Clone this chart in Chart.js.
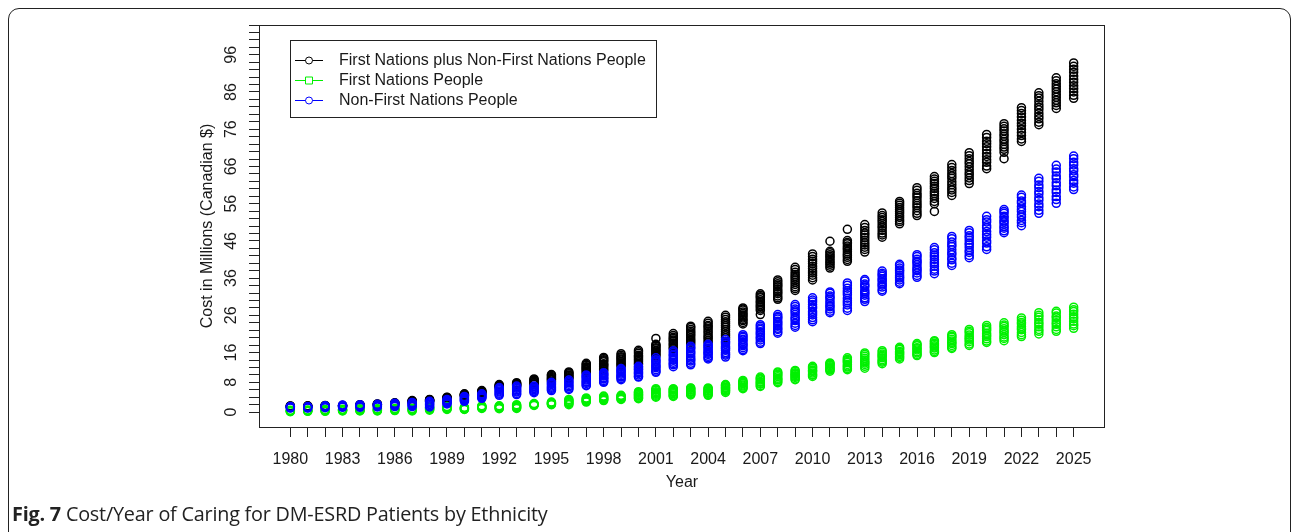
<!DOCTYPE html>
<html>
<head>
<meta charset="utf-8">
<title>Cost/Year of Caring for DM-ESRD Patients by Ethnicity</title>
<script src="https://cdn.jsdelivr.net/npm/chart.js@4.4.1/dist/chart.umd.min.js"></script>
<style>
  html, body { margin: 0; padding: 0; background: #ffffff; }
  body { width: 1292px; height: 532px; overflow: hidden; position: relative; }
  #frame {
    position: absolute; left: 8px; top: 8px; width: 1283px; height: 600px;
    border: 1.5px solid #222; border-radius: 11px; box-sizing: border-box;
  }
  #chart { position: absolute; left: 0; top: 0; }
  #caption {
    position: absolute; left: 12px; top: 500px;
    font-family: "Open Sans", Lato, sans-serif; font-size: 19.8px; color: #222;
    white-space: nowrap; letter-spacing: -0.2px;
  }
  #caption b { font-weight: 700; }
</style>
</head>
<body>
<div id="frame"></div>
<canvas id="chart" width="1292" height="532"></canvas>
<div id="caption"><b>Fig. 7</b> Cost/Year of Caring for DM-ESRD Patients by Ethnicity</div>
<script>
// Simulated yearly cost (millions of Canadian dollars), many runs per year.
const years = [1980,1981,1982,1983,1984,1985,1986,1987,1988,1989,
               1990,1991,1992,1993,1994,1995,1996,1997,1998,1999,
               2000,2001,2002,2003,2004,2005,2006,2007,2008,2009,
               2010,2011,2012,2013,2014,2015,2016,2017,2018,2019,
               2020,2021,2022,2023,2024,2025];

// First Nations plus Non-First Nations People
const totalCost = [
  [1.5,1.55,1.6,1.65],[1.5,1.55,1.6,1.7],[1.6,1.65,1.7,1.8],[1.6,1.7,1.75,1.8],
  [1.8,1.85,1.9,2.0],[2.0,2.05,2.1,2.2],[2.2,2.3,2.35,2.4,2.5],
  [2.6,2.7,2.8,2.9,3.0,3.1],[2.9,3.0,3.1,3.2,3.3,3.4],[3.5,3.6,3.7,3.8,3.9,4.0],
  [4.3,4.4,4.5,4.6,4.7,4.8,4.9],[5.0,5.2,5.3,5.5,5.6,5.8],[6.6,6.8,6.9,7.0,7.2,7.4],
  [7.0,7.2,7.4,7.5,7.7,7.9],[7.4,7.6,7.9,8.0,8.3,8.5,8.7,8.9],
  [8.3,8.6,8.8,9.0,9.3,9.6,9.9,10.1],[9.0,9.2,9.5,9.8,10.0,10.3,10.6,10.8],
  [10.4,10.7,11.0,11.3,11.5,11.8,12.0,12.2,12.6,12.8,13.1],
  [11.1,11.4,11.8,12.2,12.5,12.8,13.0,13.5,13.8,14.1,14.4,14.7],
  [12.2,12.6,12.9,13.2,13.6,14.0,14.3,14.6,14.9,15.3,15.7],
  [12.8,13.1,13.5,13.9,14.3,14.7,15.0,15.3,15.8,16.2,16.6],
  [15.1,15.4,15.7,16.1,16.4,16.6,17.0,17.3,17.7,17.9,18.2,19.8],
  [17.0,17.3,17.8,18.2,18.6,19.1,19.4,19.8,20.1,20.6,21.1],
  [18.2,18.7,19.1,19.5,20.0,20.5,20.9,21.3,21.7,22.2,22.7,23.1],
  [18.7,19.2,19.8,20.2,20.7,21.3,21.8,22.4,22.9,23.3,23.9,24.4],
  [20.0,20.5,21.0,21.6,22.2,22.8,23.3,23.8,24.3,24.9,25.5,26.0],
  [23.7,24.1,24.6,24.9,25.3,25.8,26.1,26.5,26.9,27.4,27.7,28.0],
  [26.2,27.3,27.7,28.2,28.5,28.9,29.4,29.7,30.2,30.7,31.0,31.4,31.8],
  [30.3,30.7,31.2,31.8,32.2,32.6,33.1,33.7,34.1,34.5,35.0,35.5],
  [32.7,33.2,33.7,34.3,34.9,35.5,36.0,36.5,37.0,37.6,38.3,38.9],
  [35.5,36.1,36.8,37.4,37.9,38.6,39.2,39.9,40.5,41.1,41.8,42.5],
  [38.7,39.2,39.7,40.1,40.5,41.0,41.5,41.9,42.3,42.8,43.2,45.9],
  [40.5,41.0,41.6,42.1,42.5,43.1,43.7,44.1,44.6,45.2,45.6,46.1,49.1],
  [43.0,43.7,44.3,44.9,45.5,46.2,46.9,47.6,48.1,48.8,49.6,50.4],
  [47.0,47.6,48.1,48.8,49.5,50.0,50.6,51.2,51.7,52.3,52.8,53.5],
  [50.6,51.2,51.7,52.3,52.8,53.4,53.9,54.4,55.0,55.6,56.1,56.6],
  [52.8,53.4,54.1,54.9,55.5,56.1,56.8,57.6,58.2,58.8,59.6,60.3],
  [53.9,56.0,56.6,57.4,58.1,58.7,59.3,60.1,60.7,61.4,62.0,62.6,63.3],
  [58.2,59.0,59.7,60.3,61.1,61.9,62.8,63.4,64.1,64.9,65.7,66.5],
  [61.4,62.2,62.9,63.7,64.3,65.1,65.9,66.7,67.3,68.1,68.9,69.7],
  [65.4,66.1,67.1,67.8,68.7,69.5,70.4,71.3,72.1,72.8,73.8,74.6],
  [68.1,69.8,70.6,71.2,71.9,72.7,73.3,74.1,74.7,75.5,76.1,76.8,77.5],
  [72.7,73.4,74.3,75.1,76.0,76.9,77.6,78.4,79.3,80.2,81.0,81.8],
  [77.2,77.9,78.8,79.5,80.3,81.2,81.9,82.6,83.5,84.4,85.0,85.8],
  [81.6,82.4,83.1,83.8,84.6,85.3,86.1,86.8,87.5,88.2,89.0,89.8],
  [84.3,85.1,86.0,86.9,87.7,88.6,89.4,90.3,91.3,92.1,92.9,93.8]
];

// First Nations People
const firstNationsCost = [
  [0.1,0.2,0.3,0.35,0.5],[0.2,0.3,0.35,0.45,0.6],[0.2,0.3,0.45,0.55,0.7],
  [0.3,0.4,0.5,0.65,0.8],[0.3,0.45,0.55,0.7,0.9],[0.3,0.4,0.6,0.75,0.9],
  [0.4,0.55,0.65,0.8,1.0],[0.3,0.5,0.65,0.85,1.0],[0.5,0.7,0.85,1.0,1.15,1.3],
  [0.7,0.85,1.0,1.2,1.35,1.5],[0.7,0.8,0.95,1.05,1.2,1.3],[1.0,1.15,1.3,1.4,1.55,1.7],
  [0.9,1.05,1.25,1.4,1.55,1.7],[1.0,1.2,1.35,1.55,1.8,2.0],[1.8,1.9,2.0,2.05,2.2,2.3],
  [2.0,2.15,2.25,2.4,2.55,2.7],[2.0,2.25,2.5,2.7,2.95,3.2,3.4],[2.7,2.85,3.05,3.2,3.4,3.6,3.8],
  [3.1,3.3,3.5,3.65,3.85,4.1,4.3],[3.4,3.55,3.75,3.95,4.15,4.3,4.5],
  [3.6,3.8,4.0,4.3,4.4,4.7,4.8,5.1,5.3,5.5],
  [4.0,4.2,4.5,4.8,5.0,5.2,5.5,5.9,6.0,6.3],
  [4.2,4.4,4.6,4.9,5.2,5.4,5.6,5.9,6.1,6.3],
  [4.6,4.8,5.0,5.3,5.4,5.6,5.9,6.1,6.4,6.5],
  [4.5,4.7,5.0,5.2,5.3,5.6,5.8,6.1,6.3,6.5],
  [5.3,5.6,5.8,6.0,6.3,6.5,6.7,7.0,7.2,7.4],
  [6.3,6.5,6.7,7.0,7.3,7.6,7.8,8.0,8.2,8.5],
  [6.9,7.1,7.5,7.7,8.0,8.2,8.6,8.9,9.1,9.4],
  [7.9,8.2,8.6,8.8,9.1,9.5,9.9,10.2,10.5,10.8],
  [8.7,8.9,9.3,9.6,9.8,10.1,10.3,10.6,11.0,11.2],
  [9.6,9.9,10.1,10.5,10.9,11.1,11.3,11.7,12.0,12.3],
  [11.0,11.3,11.5,11.7,11.9,12.2,12.5,12.8,13.0,13.2],
  [11.4,11.7,12.1,12.4,12.8,13.3,13.6,13.9,14.2,14.6],
  [11.8,12.3,12.8,13.2,13.5,14.0,14.5,15.0,15.5,15.9],
  [13.0,13.4,13.7,14.1,14.6,15.0,15.3,15.6,16.1,16.5],
  [14.3,14.7,15.0,15.4,15.7,16.0,16.3,16.8,17.1,17.4],
  [15.2,15.5,15.9,16.2,16.7,17.0,17.3,17.8,18.1,18.4],
  [16.0,16.3,16.7,17.2,17.5,17.8,18.2,18.5,18.9,19.2],
  [17.1,17.4,17.9,18.4,18.7,19.1,19.6,20.1,20.4,20.8],
  [17.9,18.3,18.9,19.4,19.8,20.2,20.7,21.3,21.7,22.2],
  [18.7,19.1,19.7,20.3,20.7,21.2,21.9,22.3,22.7,23.3],
  [19.2,19.8,20.2,20.8,21.4,21.8,22.4,23.0,23.4,24.0],
  [20.3,20.8,21.4,22.1,22.5,23.0,23.7,24.1,24.7,25.3],
  [21.0,21.7,22.2,22.9,23.6,24.1,24.8,25.5,26.0,26.7],
  [21.7,22.2,22.9,23.6,24.0,24.7,25.4,25.8,26.6,27.1],
  [22.5,23.2,23.7,24.4,25.1,25.6,26.3,27.0,27.5,28.2]
];

// Non-First Nations People
const nonFirstNationsCost = [
  [1.1,1.2,1.3,1.4,1.5],[1.1,1.2,1.3,1.4,1.5],[1.2,1.3,1.45,1.6,1.7],
  [1.3,1.45,1.6,1.75,1.9],[1.3,1.5,1.65,1.8,2.0],[1.4,1.55,1.7,1.9,2.1],
  [1.5,1.7,1.9,2.1,2.25,2.4],[1.5,1.75,1.95,2.15,2.4,2.6],[1.4,1.7,2.0,2.2,2.45,2.7,2.9],
  [2.2,2.4,2.6,2.8,3.0,3.2,3.4],[2.9,3.1,3.3,3.5,3.7,3.95,4.2],[3.7,3.9,4.1,4.3,4.5,4.7,4.9],
  [4.5,4.8,5.1,5.4,5.7,6.0,6.3,6.6],[4.7,5.0,5.4,5.7,6.0,6.4,6.7,7.0],[5.2,5.5,5.7,6.0,6.3,6.5,6.8,7.0],
  [5.8,6.1,6.4,6.7,7.0,7.4,7.7,8.0],[6.1,6.4,6.8,7.1,7.5,7.9,8.2,8.6],
  [7.1,7.3,7.7,8.0,8.2,8.6,8.9,9.3,9.5,9.8,10.0],
  [8.0,8.2,8.5,8.9,9.1,9.3,9.7,9.9,10.1,10.4,10.6],
  [8.7,9.0,9.4,9.6,9.8,10.2,10.5,10.9,11.1,11.4,11.7],
  [9.4,9.6,10.0,10.4,10.6,10.9,11.3,11.5,11.8,12.1,12.3],
  [10.7,11.0,11.4,11.9,12.2,12.5,12.9,13.4,13.7,14.1,14.6],
  [12.2,12.7,13.0,13.4,13.9,14.2,14.7,15.2,15.5,16.0,16.5],
  [12.7,13.1,13.7,14.1,14.5,15.0,15.6,16.0,16.4,17.0,17.3,17.7],
  [14.3,14.6,15.0,15.5,15.8,16.1,16.4,16.9,17.2,17.6,17.9,18.2],
  [14.8,15.3,15.6,16.0,16.6,17.0,17.3,17.7,18.3,18.7,19.0,19.5],
  [16.5,16.8,17.3,17.8,18.1,18.4,18.9,19.4,19.6,20.1,20.4,20.8],
  [18.4,18.8,19.4,19.9,20.2,20.8,21.2,21.6,22.2,22.6,23.1,23.5],
  [21.2,21.6,22.2,22.5,23.1,23.6,24.0,24.4,25.0,25.4,25.7,26.2],
  [22.8,23.3,23.9,24.6,25.1,25.5,26.2,26.8,27.2,27.7,28.4,28.9],
  [24.3,24.8,25.4,26.1,26.6,27.1,27.9,28.3,28.9,29.6,30.1,30.7],
  [26.7,27.1,27.7,28.3,28.6,29.2,29.7,30.4,30.8,31.2,31.9,32.3],
  [27.3,27.9,28.8,29.4,29.9,30.6,31.5,32.1,32.6,33.3,34.1,34.7],
  [29.7,30.3,30.7,31.4,31.9,32.3,32.8,33.6,34.0,34.4,35.2,35.6],
  [32.5,32.9,33.6,34.1,34.4,35.0,35.5,35.8,36.5,36.9,37.3,37.9],
  [34.5,34.9,35.5,36.0,36.3,36.8,37.4,37.9,38.2,38.7,39.3,39.7],
  [36.2,36.7,37.4,38.0,38.4,38.9,39.6,40.2,40.5,41.1,41.8,42.3],
  [37.2,37.9,38.4,39.2,39.8,40.3,41.0,41.7,42.2,42.8,43.6,44.2],
  [39.4,40.0,40.9,41.4,42.3,42.8,43.6,44.5,45.0,45.7,46.6,47.2],
  [41.5,42.1,42.9,43.4,44.2,44.9,45.4,46.2,46.9,47.4,48.2,48.8],
  [43.7,44.4,45.4,46.0,47.0,47.7,48.5,49.5,50.1,51.1,51.7,52.6],
  [48.2,48.7,49.4,49.8,50.5,51.1,51.5,52.2,52.6,53.4,53.9,54.4],
  [50.1,50.9,51.5,52.4,53.0,53.9,54.5,55.2,56.2,56.7,57.7,58.3],
  [53.4,54.2,55.2,55.9,56.9,57.6,58.6,59.3,60.3,61.0,62.0,62.8],
  [56.1,57.1,57.9,59.0,59.7,60.8,61.6,62.7,63.4,64.5,65.3,66.3],
  [59.8,60.5,61.5,62.2,63.2,63.8,64.8,65.4,66.4,67.1,68.1,68.8]
];

// Axis labels
const yearLabels = [1980,1983,1986,1989,1992,1995,1998,2001,2004,2007,2010,2013,2016,2019,2022,2025];
const costLabels = [0,8,16,26,36,46,56,66,76,86,96];
const costTickStep = 2;
const costTickMax = 104;

const seriesNames = [
  'First Nations plus Non-First Nations People',
  'First Nations People',
  'Non-First Nations People'
];

function toPoints(runs) {
  const pts = [];
  runs.forEach((vals, i) => vals.forEach(v => pts.push({ x: years[i], y: v })));
  return pts;
}

const costTicks = [];
for (let v = 0; v <= costTickMax; v += costTickStep) costTicks.push(v);

const FONT = '"Liberation Sans", Arial, Helvetica, sans-serif';
const INK = '#1a1a1a';

// Axis labels, titles, plot box and legend, drawn R-style
const baseGraphics = {
  id: 'baseGraphics',
  afterDraw(chart) {
    const { ctx, chartArea: a, scales } = chart;
    const xs = scales.x, ys = scales.y;
    ctx.save();
    // plot box
    ctx.strokeStyle = '#222';
    ctx.lineWidth = 1;
    ctx.strokeRect(Math.round(a.left) + 0.5, Math.round(a.top) + 0.5,
                   Math.round(a.right - a.left) - 1, Math.round(a.bottom - a.top));

    ctx.fillStyle = INK;
    ctx.font = '16px ' + FONT;
    // x tick labels
    ctx.textAlign = 'center';
    ctx.textBaseline = 'alphabetic';
    yearLabels.forEach(y => ctx.fillText(String(y), xs.getPixelForValue(y), a.bottom + 36.5));
    // x title
    ctx.fillText('Year', (a.left + a.right) / 2, a.bottom + 60);

    // y tick labels, parallel to the axis
    costLabels.forEach(v => {
      ctx.save();
      ctx.translate(a.left - 23, ys.getPixelForValue(v));
      ctx.rotate(-Math.PI / 2);
      ctx.fillText(String(v), 0, 0);
      ctx.restore();
    });
    // y title
    ctx.save();
    ctx.translate(a.left - 47.5, (a.top + a.bottom) / 2);
    ctx.rotate(-Math.PI / 2);
    ctx.fillText('Cost in Millions (Canadian $)', 0, 0);
    ctx.restore();

    // legend
    const lx = a.left + 31, ly = a.top + 15, lw = 366, lh = 77;
    ctx.strokeStyle = '#222';
    ctx.strokeRect(lx + 0.5, ly + 0.5, lw, lh);
    [0, 1, 2].forEach((di, row) => {
      const ds = chart.data.datasets[di];
      const cy = ly + 20 + row * 20;
      ctx.strokeStyle = ds.borderColor;
      ctx.lineWidth = 1;
      ctx.beginPath();
      ctx.moveTo(lx + 5, cy + 0.5);
      ctx.lineTo(lx + 33, cy + 0.5);
      ctx.stroke();
      ctx.fillStyle = '#ffffff';
      ctx.beginPath();
      if (ds.legendMarker === 'square') {
        ctx.rect(lx + 19 - 3.5, cy - 3, 7, 7);
      } else {
        ctx.arc(lx + 19, cy + 0.5, 3.5, 0, Math.PI * 2);
      }
      ctx.fill();
      ctx.stroke();
      ctx.fillStyle = INK;
      ctx.textAlign = 'left';
      ctx.textBaseline = 'middle';
      ctx.fillText(ds.label, lx + 49, cy + 1);
    });
    ctx.restore();
  }
};

const common = { pointRadius: 4, pointBorderWidth: 1.5, pointBackgroundColor: 'rgba(0,0,0,0)', showLine: false };

new Chart(document.getElementById('chart'), {
  type: 'scatter',
  data: {
    datasets: [
      Object.assign({ label: seriesNames[0], data: toPoints(totalCost), borderColor: '#000000', pointBorderColor: '#000000', order: 2, legendMarker: 'circle' }, common),
      Object.assign({ label: seriesNames[1], data: toPoints(firstNationsCost), borderColor: '#00f000', pointBorderColor: '#00f000', order: 1, legendMarker: 'square' }, common),
      Object.assign({ label: seriesNames[2], data: toPoints(nonFirstNationsCost), borderColor: '#0000ff', pointBorderColor: '#0000ff', order: 0, legendMarker: 'circle' }, common)
    ]
  },
  options: {
    responsive: false,
    animation: false,
    events: [],
    layout: { padding: { top: 25, right: 187, bottom: 0, left: 0 } },
    plugins: { legend: { display: false }, tooltip: { enabled: false }, title: { display: false } },
    scales: {
      x: {
        type: 'linear', min: 1978.2, max: 2026.8,
        afterBuildTicks: s => { s.ticks = years.map(v => ({ value: v })); },
        afterFit: s => { s.height = 105; },
        grid: { drawOnChartArea: false, drawTicks: true, tickLength: 10, color: '#222', lineWidth: 1 },
        border: { display: false },
        ticks: { display: false }
      },
      y: {
        type: 'linear', min: -4, max: 104,
        afterBuildTicks: s => { s.ticks = costTicks.map(v => ({ value: v })); },
        afterFit: s => { s.width = 259; },
        grid: { drawOnChartArea: false, drawTicks: true, tickLength: 10, color: '#222', lineWidth: 1 },
        border: { display: false },
        ticks: { display: false }
      }
    }
  },
  plugins: [baseGraphics]
});
</script>
</body>
</html>
